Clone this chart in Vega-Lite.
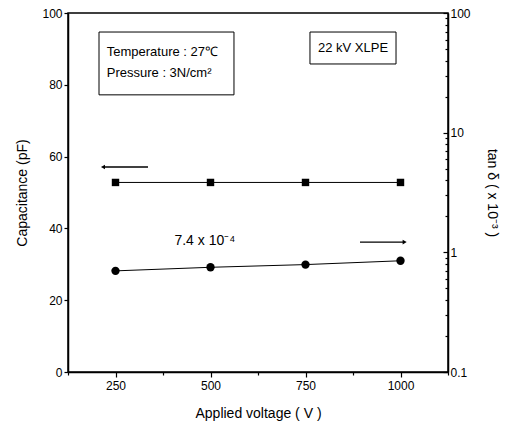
{
  "$schema": "https://vega.github.io/schema/vega-lite/v6.json",
  "width": 380,
  "height": 359,
  "autosize": "none",
  "padding": {"left": 68, "top": 13, "right": 63, "bottom": 56},
  "config": {
    "font": "Liberation Sans",
    "view": {"stroke": "black", "strokeWidth": 1.5},
    "axis": {
      "grid": false,
      "domainColor": "black",
      "domainWidth": 1.5,
      "tickColor": "black",
      "tickWidth": 1.2,
      "labelColor": "black",
      "titleColor": "black",
      "labelFontSize": 12,
      "titleFontSize": 14,
      "titleFontWeight": "normal",
      "labelFont": "Liberation Sans",
      "titleFont": "Liberation Sans"
    }
  },
  "datasets": {
    "cap": [
      {"V": 250, "C": 52.8},
      {"V": 500, "C": 52.8},
      {"V": 750, "C": 52.8},
      {"V": 1000, "C": 52.8}
    ],
    "tan": [
      {"V": 250, "T": 0.70},
      {"V": 500, "T": 0.75},
      {"V": 750, "T": 0.79},
      {"V": 1000, "T": 0.85}
    ]
  },
  "layer": [
    {
      "layer": [
        {
          "data": {"name": "cap"},
          "mark": {"type": "line", "color": "black", "strokeWidth": 1},
          "encoding": {
            "x": {"field": "V", "type": "quantitative", "scale": {"domain": [125, 1125], "nice": false, "zero": false},
                  "axis": {"orient": "bottom", "title": "Applied voltage ( V )", "values": [125, 250, 375, 500, 625, 750, 875, 1000, 1125],
                           "labelExpr": "datum.value % 250 == 0 ? datum.value + '' : ''",
                           "tickSize": {"condition": {"test": "datum.value % 250 == 0", "value": 5}, "value": 3},
                           "labelPadding": 3, "titlePadding": 15}},
            "y": {"field": "C", "type": "quantitative", "scale": {"domain": [0, 100], "nice": false},
                  "axis": {"orient": "left", "title": "Capacitance (pF)", "values": [0, 10, 20, 30, 40, 50, 60, 70, 80, 90, 100],
                           "labelExpr": "datum.value % 20 == 0 ? datum.value + '' : ''",
                           "tickSize": 4,
                           "labelPadding": 2, "titlePadding": 12}}
          }
        },
        {
          "data": {"name": "cap"},
          "mark": {"type": "point", "shape": "square", "filled": true, "color": "black", "size": 55, "opacity": 1},
          "encoding": {
            "x": {"field": "V", "type": "quantitative"},
            "y": {"field": "C", "type": "quantitative"}
          }
        },
        {
          "data": {"values": [{}]},
          "mark": {"type": "rect", "fill": null, "fillOpacity": 0, "stroke": "black", "strokeWidth": 1},
          "encoding": {
            "x": {"datum": 206.6, "type": "quantitative"},
            "x2": {"datum": 561.8},
            "y": {"datum": 94.7, "type": "quantitative"},
            "y2": {"datum": 77.2}
          }
        },
        {
          "data": {"values": [{}]},
          "mark": {"type": "rect", "fill": null, "fillOpacity": 0, "stroke": "black", "strokeWidth": 1},
          "encoding": {
            "x": {"datum": 761.8, "type": "quantitative"},
            "x2": {"datum": 988.2},
            "y": {"datum": 94.7, "type": "quantitative"},
            "y2": {"datum": 85.8}
          }
        },
        {
          "data": {"values": [{}]},
          "mark": {"type": "text", "text": "Temperature : 27℃", "align": "left", "baseline": "middle", "fontSize": 13, "color": "black"},
          "encoding": {
            "x": {"datum": 227, "type": "quantitative"},
            "y": {"datum": 89.1, "type": "quantitative"}
          }
        },
        {
          "data": {"values": [{}]},
          "mark": {"type": "text", "text": "Pressure : 3N/cm²", "align": "left", "baseline": "middle", "fontSize": 13, "color": "black"},
          "encoding": {
            "x": {"datum": 227, "type": "quantitative"},
            "y": {"datum": 83.4, "type": "quantitative"}
          }
        },
        {
          "data": {"values": [{}]},
          "mark": {"type": "text", "text": "22 kV XLPE", "align": "center", "baseline": "middle", "fontSize": 13, "color": "black"},
          "encoding": {
            "x": {"datum": 875, "type": "quantitative"},
            "y": {"datum": 90.3, "type": "quantitative"}
          }
        },
        {
          "data": {"values": [{}]},
          "mark": {"type": "text", "text": "7.4 x 10⁻⁴", "align": "left", "baseline": "middle", "fontSize": 14, "color": "black"},
          "encoding": {
            "x": {"datum": 405, "type": "quantitative"},
            "y": {"datum": 36.5, "type": "quantitative"}
          }
        },
        {
          "data": {"values": [{}]},
          "mark": {"type": "rule", "color": "black", "strokeWidth": 1.3},
          "encoding": {
            "x": {"datum": 220, "type": "quantitative"},
            "x2": {"datum": 335.5},
            "y": {"datum": 57.1, "type": "quantitative"}
          }
        },
        {
          "data": {"values": [{}]},
          "mark": {"type": "point", "shape": "triangle-left", "filled": true, "color": "black", "size": 22, "opacity": 1},
          "encoding": {
            "x": {"datum": 217, "type": "quantitative"},
            "y": {"datum": 57.1, "type": "quantitative"}
          }
        },
        {
          "data": {"values": [{}]},
          "mark": {"type": "rule", "color": "black", "strokeWidth": 1.3},
          "encoding": {
            "x": {"datum": 893.4, "type": "quantitative"},
            "x2": {"datum": 1009},
            "y": {"datum": 36.2, "type": "quantitative"}
          }
        },
        {
          "data": {"values": [{}]},
          "mark": {"type": "point", "shape": "triangle-right", "filled": true, "color": "black", "size": 22, "opacity": 1},
          "encoding": {
            "x": {"datum": 1011, "type": "quantitative"},
            "y": {"datum": 36.2, "type": "quantitative"}
          }
        }
      ]
    },
    {
      "layer": [
        {
          "data": {"name": "tan"},
          "mark": {"type": "line", "color": "black", "strokeWidth": 1},
          "encoding": {
            "x": {"field": "V", "type": "quantitative"},
            "y": {"field": "T", "type": "quantitative", "scale": {"type": "log", "domain": [0.1, 100], "nice": false},
                  "axis": {"orient": "right", "title": "tan δ ( x 10⁻³ )",
                           "values": [0.1, 0.2, 0.3, 0.4, 0.5, 0.6, 0.7, 0.8, 0.9, 1, 2, 3, 4, 5, 6, 7, 8, 9, 10, 20, 30, 40, 50, 60, 70, 80, 90, 100],
                           "labelExpr": "indexof([0.1, 1, 10, 100], datum.value) >= 0 ? datum.value + '' : ''",
                           "tickSize": {"condition": {"test": "indexof([0.1, 1, 10, 100], datum.value) >= 0", "value": -5}, "value": -3},
                           "labelPadding": 7, "titlePadding": 14}}
          }
        },
        {
          "data": {"name": "tan"},
          "mark": {"type": "point", "shape": "circle", "filled": true, "color": "black", "size": 70, "opacity": 1},
          "encoding": {
            "x": {"field": "V", "type": "quantitative"},
            "y": {"field": "T", "type": "quantitative"}
          }
        }
      ]
    }
  ],
  "resolve": {"scale": {"y": "independent"}, "axis": {"x": "shared", "y": "independent"}}
}
